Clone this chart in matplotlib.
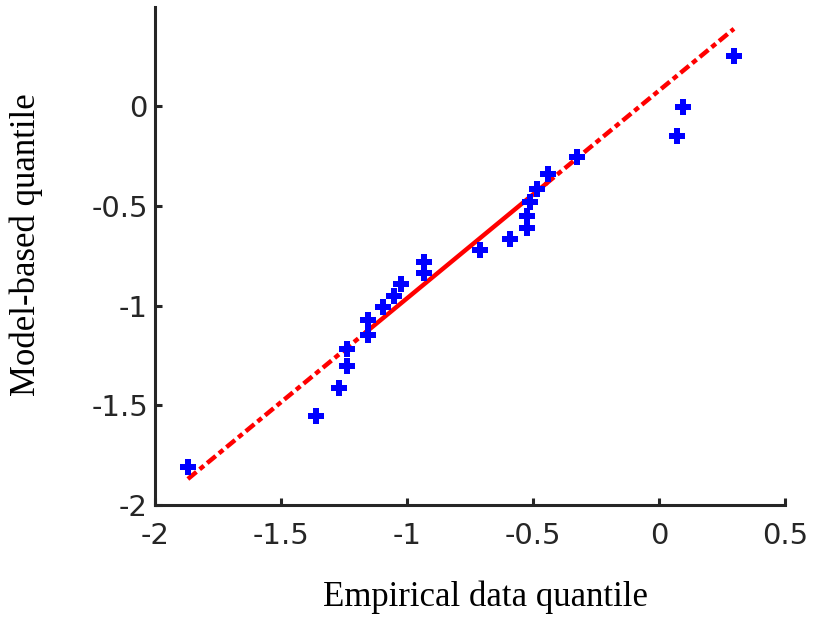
import numpy as np
import matplotlib
matplotlib.use("Agg")
import matplotlib.pyplot as plt

# sorted empirical quantiles vs model-based quantiles
emp_q = [-1.869, -1.361, -1.270, -1.238, -1.238, -1.153, -1.153, -1.095, -1.052,
         -1.024, -0.933, -0.933, -0.710, -0.591, -0.524, -0.524, -0.512, -0.484,
         -0.440, -0.325, 0.071, 0.095, 0.298]
model_q = [-1.810, -1.554, -1.410, -1.303, -1.218, -1.148, -1.073, -1.008, -0.953,
           -0.892, -0.837, -0.782, -0.722, -0.667, -0.612, -0.551, -0.481, -0.416,
           -0.341, -0.256, -0.150, -0.005, 0.251]

# quartile points the reference line passes through
quart_x = [-1.16, -0.45]
quart_y = [-1.13, -0.39]

xticks = [-2, -1.5, -1, -0.5, 0, 0.5]
yticks = [-2, -1.5, -1, -0.5, 0]

plt.rcParams['lines.scale_dashes'] = False
dark = '#262626'

fig = plt.figure(figsize=(8.15, 6.19), dpi=100)
ax = fig.add_axes([0.190, 0.184, 0.773, 0.805])

# reference line: solid between quartiles, dash-dot out to data extremes
slope = (quart_y[1] - quart_y[0]) / (quart_x[1] - quart_x[0])
x_lo, x_hi = min(emp_q), max(emp_q)
line_y = lambda x: quart_y[0] + slope * (x - quart_x[0])
dash = dict(color='red', lw=3.2, dashes=[8, 3, 4, 3], solid_capstyle='butt')
ax.plot([x_lo, quart_x[0]], [line_y(x_lo), quart_y[0]], **dash)
ax.plot([quart_x[1], x_hi], [quart_y[1], line_y(x_hi)], **dash)
ax.plot(quart_x, quart_y, color='red', lw=3.2)

ax.plot(emp_q, model_q, linestyle='none', marker='P', markersize=11,
        color='#0000ff', markeredgewidth=0)

ax.set_xlim(-2, 0.5)
ax.set_ylim(-2, 0.5)
ax.set_xticks(xticks)
ax.set_yticks(yticks)
ax.set_xticklabels(['{:g}'.format(t) for t in xticks])
ax.set_yticklabels(['{:g}'.format(t) for t in yticks])

for s in ['top', 'right']:
    ax.spines[s].set_visible(False)
for s in ['left', 'bottom']:
    ax.spines[s].set_color(dark)
    ax.spines[s].set_linewidth(2.2)

ax.tick_params(direction='in', length=5, width=2.2, color=dark,
               labelcolor=dark, labelsize=21)
ax.tick_params(axis='x', pad=12)
ax.tick_params(axis='y', pad=5)

ax.set_xlabel('Empirical data quantile', family='Liberation Serif', fontsize=25)
ax.set_ylabel('Model-based quantile', family='Liberation Serif', fontsize=25)
ax.xaxis.set_label_coords(0.525, -0.152)
ax.yaxis.set_label_coords(-0.178, 0.522)

fig.savefig('out.png', dpi=100)
